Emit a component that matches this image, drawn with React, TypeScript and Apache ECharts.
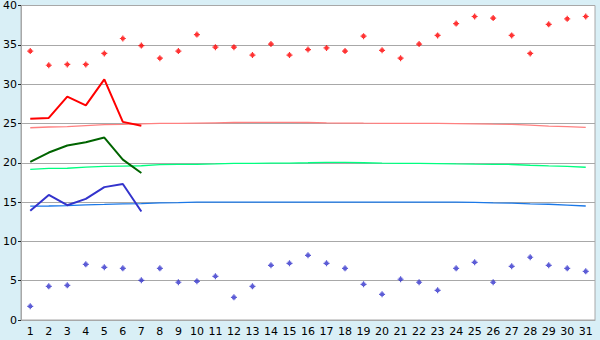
import React, { useEffect, useRef } from "react";
import * as echarts from "echarts";

const days = Array.from({ length: 31 }, (_, i) => String(i + 1));

const maxDaily = [34.2, 32.4, 32.5, 32.5, 33.9, 35.8, 34.9, 33.3, 34.2, 36.3, 34.7, 34.7, 33.7, 35.1, 33.7, 34.4, 34.6, 34.2, 36.1, 34.3, 33.3, 35.1, 36.2, 37.7, 38.6, 38.4, 36.2, 33.9, 37.6, 38.3, 38.6];
const minDaily = [1.74, 4.28, 4.41, 7.08, 6.7, 6.57, 5.05, 6.57, 4.8, 4.92, 5.56, 2.88, 4.28, 6.96, 7.21, 8.23, 7.21, 6.57, 4.54, 3.27, 5.18, 4.8, 3.78, 6.57, 7.34, 4.8, 6.83, 7.98, 6.96, 6.57, 6.19];

const maxLine = [25.6, 25.7, 28.4, 27.3, 30.6, 25.2, 24.7];
const meanLine = [20.1, 21.3, 22.2, 22.6, 23.2, 20.4, 18.7];
const minLine = [13.9, 15.9, 14.6, 15.4, 16.9, 17.3, 13.8];

const normalMax = [24.45, 24.55, 24.6, 24.73, 24.85, 24.88, 24.95, 25.0, 25.02, 25.05, 25.08, 25.12, 25.13, 25.13, 25.13, 25.12, 25.08, 25.05, 25.03, 25.02, 25.0, 25.0, 25.0, 24.98, 24.95, 24.9, 24.87, 24.78, 24.67, 24.6, 24.5];
const normalMean = [19.15, 19.28, 19.3, 19.45, 19.55, 19.58, 19.62, 19.75, 19.8, 19.8, 19.85, 19.92, 19.93, 19.94, 19.95, 20.0, 20.06, 20.05, 20.0, 19.95, 19.93, 19.92, 19.9, 19.85, 19.82, 19.8, 19.78, 19.68, 19.6, 19.55, 19.43];
const normalMin = [14.48, 14.5, 14.55, 14.65, 14.7, 14.78, 14.8, 14.9, 14.93, 15.0, 15.0, 15.0, 15.0, 15.0, 15.0, 15.0, 15.0, 15.0, 15.0, 15.0, 15.0, 15.0, 15.0, 15.0, 14.95, 14.9, 14.87, 14.78, 14.72, 14.62, 14.5];

const marker = "path://M2,0H3V1H4V2H5V3H4V4H3V5H2V4H1V3H0V2H1V1H2Z";

export default function App() {
  const ref = useRef<HTMLDivElement>(null);
  useEffect(() => {
    document.body.style.margin = "0";
    const chart = echarts.init(ref.current!, undefined, { renderer: "svg" });
    const grey = "#A8A8A8";
    const font = "DejaVu Sans";
    const normal = (data: number[], color: string) => ({
      type: "line",
      data,
      showSymbol: false,
      symbol: "none",
      lineStyle: { color, width: 1.3 },
      z: 2,
    });
    const main = (data: number[], color: string) => ({
      type: "line",
      data,
      showSymbol: false,
      symbol: "none",
      lineStyle: { color, width: 2 },
      z: 3,
    });
    chart.setOption({
      animation: false,
      backgroundColor: "#D9EFF6",
      grid: {
        left: 20,
        right: 5,
        top: 5,
        bottom: 20,
        show: true,
        backgroundColor: "#FFFFFF",
        borderColor: grey,
        borderWidth: 1,
      },
      xAxis: {
        type: "category",
        data: days,
        boundaryGap: true,
        axisLine: { lineStyle: { color: grey, width: 1 } },
        axisTick: { alignWithLabel: true, length: 5, lineStyle: { color: "#222" } },
        axisLabel: { color: "#000", fontFamily: font, fontSize: 11, margin: 6, interval: 0 },
        splitLine: { show: false },
      },
      yAxis: {
        type: "value",
        min: 0,
        max: 40,
        interval: 5,
        axisLine: { show: true, lineStyle: { color: grey, width: 1 } },
        axisTick: { show: true, length: 3, lineStyle: { color: "#222" } },
        axisLabel: { color: "#000", fontFamily: font, fontSize: 11, margin: 4 },
        splitLine: { lineStyle: { color: grey, width: 1 } },
      },
      series: [
        normal(normalMax, "#FF8080"),
        normal(normalMean, "#00FF80"),
        normal(normalMin, "#1A78E8"),
        main(maxLine, "#FF0000"),
        main(meanLine, "#006400"),
        main(minLine, "#3333CC"),
        {
          type: "scatter",
          data: maxDaily,
          symbol: marker,
          symbolSize: 6,
          itemStyle: { color: "#FF0000" },
          z: 4,
        },
        {
          type: "scatter",
          data: minDaily,
          symbol: marker,
          symbolSize: 6,
          itemStyle: { color: "#3333CC" },
          z: 4,
        },
      ],
    });
    return () => chart.dispose();
  }, []);
  return <div ref={ref} style={{ width: 600, height: 340 }} />;
}
